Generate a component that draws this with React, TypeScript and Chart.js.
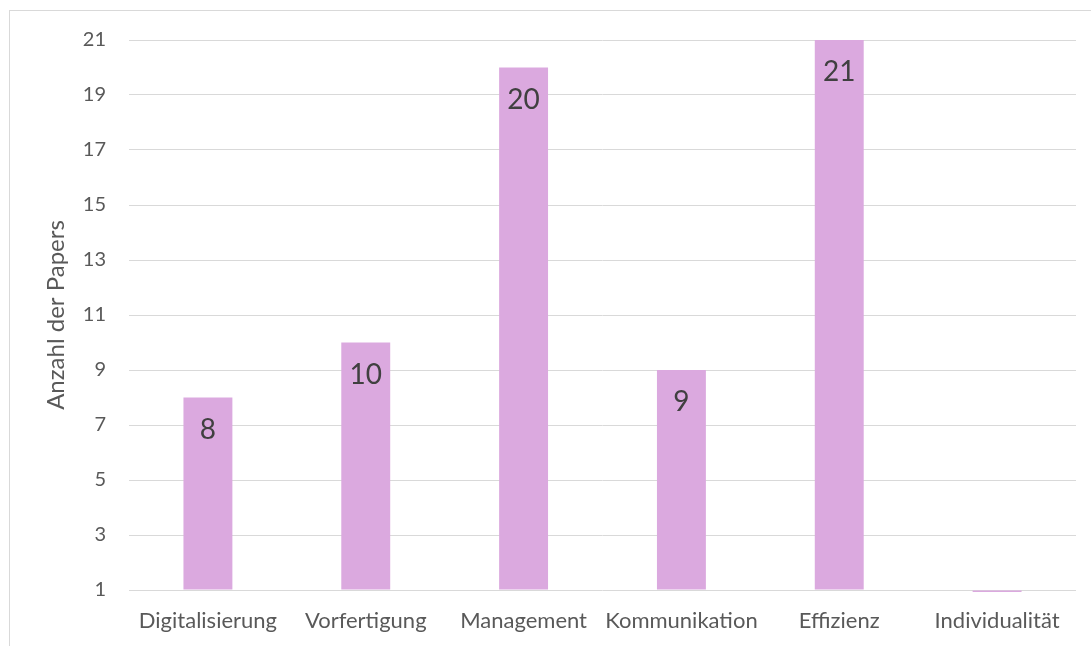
import React, { useEffect, useRef } from "react";
import { Chart, registerables } from "chart.js";

Chart.register(...registerables);

const categories = ["Digitalisierung", "Vorfertigung", "Management", "Kommunikation", "Effizienz", "Individualität"];
const paperCounts = [8, 10, 20, 9, 21, 0];
const yTickValues = [1, 3, 5, 7, 9, 11, 13, 15, 17, 19, 21];

const FONT = "Lato, 'Open Sans', sans-serif";

const dataLabelPlugin = {
  id: "dataLabelsInside",
  afterDatasetsDraw(chart: any) {
    const ctx = chart.ctx;
    const meta = chart.getDatasetMeta(0);
    const data = chart.data.datasets[0].data as number[];
    ctx.save();
    ctx.font = `28px ${FONT}`;
    ctx.fillStyle = "#404040";
    ctx.textAlign = "center";
    ctx.textBaseline = "alphabetic";
    meta.data.forEach((bar: any, i: number) => {
      const v = data[i];
      if (!v) return;
      ctx.fillText(String(v), bar.x, bar.y + 41);
    });
    ctx.restore();
  },
};

export default function App() {
  const canvasRef = useRef<HTMLCanvasElement | null>(null);

  useEffect(() => {
    document.documentElement.style.overflow = "hidden";
    document.body.style.overflow = "hidden";
    const canvas = canvasRef.current;
    if (!canvas) return;
    const chart = new Chart(canvas, {
      type: "bar",
      data: {
        labels: categories,
        datasets: [
          {
            label: "Anzahl der Papers",
            data: paperCounts,
            backgroundColor: "#dba9df",
            borderWidth: 0,
            barPercentage: 0.31,
            categoryPercentage: 1,
            base: 1,
            clip: { left: 0, top: 0, right: 0, bottom: 2 } as any,
          } as any,
        ],
      },
      options: {
        responsive: false,
        animation: false,
        layout: { padding: { left: 0, top: 29, right: 14, bottom: 0 } },
        plugins: {
          legend: { display: false },
          tooltip: { enabled: false },
          title: { display: false },
        },
        scales: {
          x: {
            grid: { display: false, drawTicks: false },
            border: { display: false },
            ticks: {
              color: "#595959",
              font: { family: FONT, size: 22 },
              padding: 18,
              maxRotation: 0,
              autoSkip: false,
            },
            afterFit(scale: any) {
              scale.height = 61;
              scale.paddingLeft = 0;
              scale.paddingRight = 0;
            },
          },
          y: {
            min: 1,
            max: 21,
            afterBuildTicks(scale: any) {
              scale.ticks = yTickValues.map((v) => ({ value: v }));
            },
            grid: { color: "#d9d9d9", lineWidth: 1, drawTicks: false },
            border: { display: false },
            ticks: {
              color: "#595959",
              font: { family: FONT, size: 20 },
              padding: 23,
            },
            title: {
              display: true,
              text: "Anzahl der Papers",
              color: "#595959",
              font: { family: FONT, size: 24 },
              padding: { top: 32, bottom: 0 },
            },
            afterFit(scale: any) {
              scale.width = 119;
              scale.paddingTop = 0;
              scale.paddingBottom = 0;
            },
          },
        },
      },
      plugins: [dataLabelPlugin],
    });
    return () => chart.destroy();
  }, []);

  return (
    <div
      style={{
        position: "fixed",
        left: 9,
        top: 10,
        width: 1100,
        height: 660,
        borderLeft: "1px solid #d9d9d9",
        borderTop: "1px solid #d9d9d9",
        background: "#ffffff",
      }}
    >
      <canvas ref={canvasRef} width={1080} height={640} style={{ display: "block" }} />
    </div>
  );
}
